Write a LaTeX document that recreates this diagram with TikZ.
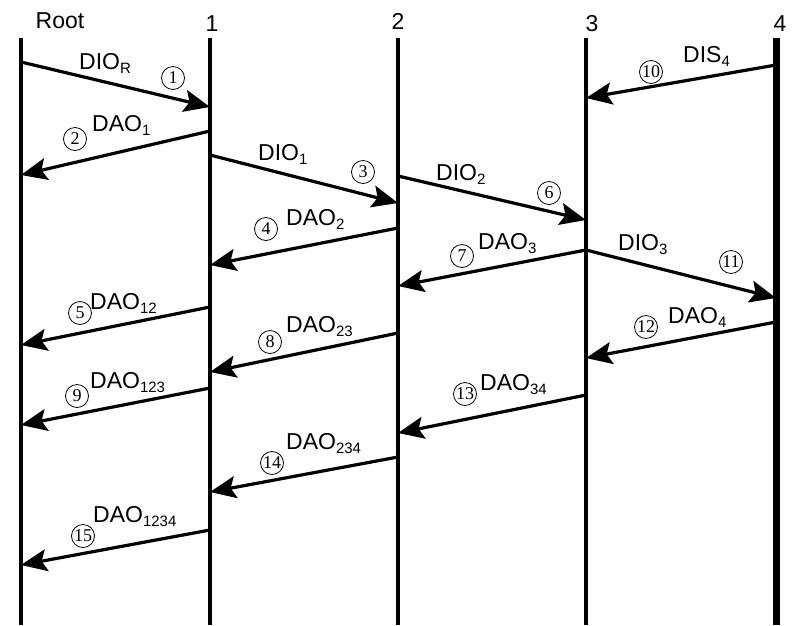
\documentclass[tikz,border=0pt]{standalone}
\usepackage{fontspec}
\setmainfont{Liberation Sans}
\newfontfamily\numfont{Liberation Serif}
\usetikzlibrary{arrows.meta}
\newcommand{\lsub}[1]{\raisebox{-0.35ex}{\fontsize{15}{15}\selectfont #1}}

\begin{document}
\begin{tikzpicture}[x=1pt, y=-1pt,
    life/.style={line width=4.8pt},
    msg/.style={line width=3.2pt, -{Stealth[length=26pt, width=22pt, inset=5pt]}},
    lbl/.style={anchor=base west, inner sep=0pt, font=\fontsize{23}{26}\selectfont},
    head/.style={anchor=base, inner sep=0pt, font=\fontsize{23}{26}\selectfont},
    num/.style={circle, draw, line width=0.8pt, inner sep=0pt, minimum size=23pt, font=\numfont\fontsize{18}{18}\selectfont}]
    \useasboundingbox (0,0) rectangle (792,625);

    % lifelines
    \node[head] (root) at (60,28) {Root};
    \node[head] (n1) at (212,31) {1};
    \node[head] (n2) at (398,29) {2};
    \node[head] (n3) at (592,31) {3};
    \node[head] (n4) at (780,31) {4};
    \coordinate (rt) at (21,38);  \coordinate (rb) at (21,625);
    \coordinate (at) at (210,38); \coordinate (ab) at (210,625);
    \coordinate (bt) at (398,38); \coordinate (bb) at (398,625);
    \coordinate (ct) at (586,38); \coordinate (cb) at (586,625);
    \coordinate (dt) at (776,38); \coordinate (db) at (776,625);
    \draw[life] (rt) -- (rb);
    \draw[life] (at) -- (ab);
    \draw[life] (bt) -- (bb);
    \draw[life] (ct) -- (cb);
    \draw[life, line width=7pt] (dt) -- (db);

    % message ends
    \coordinate (s1) at (21,62);   \coordinate (t1) at (210,107);
    \coordinate (s2) at (210,131); \coordinate (t2) at (21,175);
    \coordinate (s3) at (210,155); \coordinate (t3) at (398,203);
    \coordinate (s4) at (398,228); \coordinate (t4) at (210,265);
    \coordinate (s5) at (210,307); \coordinate (t5) at (21,345);
    \coordinate (s6) at (398,176); \coordinate (t6) at (586,220);
    \coordinate (s7) at (586,250); \coordinate (t7) at (398,286);
    \coordinate (s8) at (398,333); \coordinate (t8) at (210,372);
    \coordinate (s9) at (210,388); \coordinate (t9) at (21,425);
    \coordinate (s10) at (776,65);  \coordinate (t10) at (586,98);
    \coordinate (s11) at (586,250); \coordinate (t11) at (776,298);
    \coordinate (s12) at (776,322); \coordinate (t12) at (586,358);
    \coordinate (s13) at (586,395); \coordinate (t13) at (398,433);
    \coordinate (s14) at (398,457); \coordinate (t14) at (210,492);
    \coordinate (s15) at (210,530); \coordinate (t15) at (21,565);

    \draw[msg] (s1) -- (t1);
    \draw[msg] (s2) -- (t2);
    \draw[msg] (s3) -- (t3);
    \draw[msg] (s4) -- (t4);
    \draw[msg] (s5) -- (t5);
    \draw[msg] (s6) -- (t6);
    \draw[msg] (s7) -- (t7);
    \draw[msg] (s8) -- (t8);
    \draw[msg] (s9) -- (t9);
    \draw[msg] (s10) -- (t10);
    \draw[msg] (s11) -- (t11);
    \draw[msg] (s12) -- (t12);
    \draw[msg] (s13) -- (t13);
    \draw[msg] (s14) -- (t14);
    \draw[msg] (s15) -- (t15);

    % labels
    \node[lbl] (l1) at (79,69) {DIO\lsub{R}};
    \node[lbl] (l2) at (92,131) {DAO\lsub{1}};
    \node[lbl] (l3) at (258,160) {DIO\lsub{1}};
    \node[lbl] (l4) at (286,225) {DAO\lsub{2}};
    \node[lbl] (l5) at (90,309) {DAO\lsub{12}};
    \node[lbl] (l6) at (436,180) {DIO\lsub{2}};
    \node[lbl] (l7) at (478,249) {DAO\lsub{3}};
    \node[lbl] (l8) at (286,332) {DAO\lsub{23}};
    \node[lbl] (l9) at (90,388) {DAO\lsub{123}};
    \node[lbl] (l10) at (683,62) {DIS\lsub{4}};
    \node[lbl] (l11) at (618,250) {DIO\lsub{3}};
    \node[lbl] (l12) at (668,323) {DAO\lsub{4}};
    \node[lbl] (l13) at (480,390) {DAO\lsub{34}};
    \node[lbl] (l14) at (286,449) {DAO\lsub{234}};
    \node[lbl] (l15) at (93,522) {DAO\lsub{1234}};

    % step numbers
    \node[num] (c1) at (173,78) {1};
    \node[num] (c2) at (75,139) {2};
    \node[num] (c3) at (363,172) {3};
    \node[num] (c4) at (266,229) {4};
    \node[num] (c5) at (80,313) {5};
    \node[num] (c6) at (549,193) {6};
    \node[num] (c7) at (462,256) {7};
    \node[num] (c8) at (270,342) {8};
    \node[num] (c9) at (77,396) {9};
    \node[num] (c10) at (651,72) {10};
    \node[num] (c11) at (731,262) {11};
    \node[num] (c12) at (646,327) {12};
    \node[num] (c13) at (465,394) {13};
    \node[num] (c14) at (272,463) {14};
    \node[num] (c15) at (83,536) {15};
\end{tikzpicture}
\end{document}
